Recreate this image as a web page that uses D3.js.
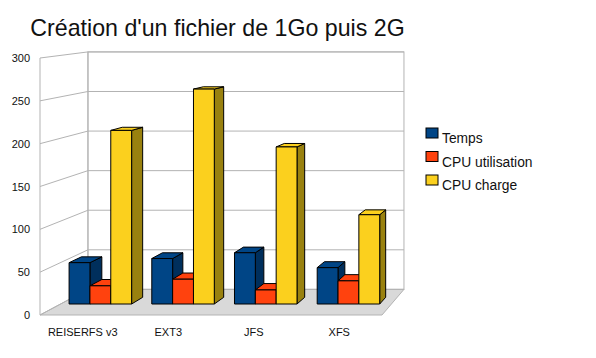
<!DOCTYPE html>
<html>
<head>
<meta charset="utf-8">
<script src="https://cdn.jsdelivr.net/npm/d3@7"></script>
<style>
  body { margin: 0; background: #fff; }
  text { font-family: "Liberation Sans", sans-serif; fill: #111; }
</style>
</head>
<body>
<div id="chart"></div>
<script>
// Values
const categories = ['REISERFS v3', 'EXT3', 'JFS', 'XFS'];
const seriesNames = ['Temps', 'CPU utilisation', 'CPU charge'];
const temps = [50, 55, 62, 44];
const cpuUtilisation = [22, 30, 17, 28];
const cpuCharge = [210, 260, 190, 108];
const seriesValues = [temps, cpuUtilisation, cpuCharge];
const yTicks = [0, 50, 100, 150, 200, 250, 300];

const colors = ['#004586', '#ff420e', '#fbd01e'];
const sideColors = ['#002f5c', '#b02d0a', '#99810f'];

const width = 596;
const height = 358;

const svg = d3.select('#chart')
  .append('svg')
  .attr('width', width)
  .attr('height', height)
  .style('display', 'block');

// Fake 3D: everything recedes towards one vanishing point
const vanish = [671, -22];
const wallDepth = 0.076;
const barDepth = 0.0205;
const recede = (x, y, f) => [x + (vanish[0] - x) * f, y + (vanish[1] - y) * f];
const poly = pts => pts.map(p => p.join(',')).join(' ');

// Scales: front edge of the box, and the plane the bars stand on
const yFront = d3.scaleLinear().domain([0, 300]).range([315, 58]);
const yBar = d3.scaleLinear().domain([0, 300]).range([304, 56]);
const xFront = d3.scaleBand().domain(categories).range([40, 382]);
const xBar = d3.scaleBand().domain(categories).range([59, 389.8]).paddingInner(0.244).paddingOuter(0.122);
const xSeries = d3.scaleBand().domain(d3.range(seriesNames.length)).range([0, xBar.bandwidth()]);

const [x0, x1] = xFront.range();
const gridColor = '#b3b3b3';

// Back wall
const back = v => recede(x0, yFront(v), wallDepth);
const backRight = v => recede(x1, yFront(v), wallDepth);
svg.append('rect')
  .attr('x', back(300)[0])
  .attr('y', back(300)[1])
  .attr('width', backRight(300)[0] - back(300)[0])
  .attr('height', back(0)[1] - back(300)[1])
  .attr('fill', '#fff')
  .attr('stroke', gridColor);

// Floor
svg.append('polygon')
  .attr('points', poly([[x0, yFront(0)], back(0), backRight(0), [x1, yFront(0)]]))
  .attr('fill', '#d9d9d9')
  .attr('stroke', gridColor);

// Grid lines on the left wall and the back wall
const grid = svg.append('g').attr('fill', 'none').attr('stroke', gridColor);
grid.selectAll('polyline')
  .data(yTicks)
  .enter()
  .append('polyline')
  .attr('points', d => poly([[x0, yFront(d)], back(d), backRight(d)]));
grid.append('line')
  .attr('x1', x0).attr('x2', x0)
  .attr('y1', yFront(300)).attr('y2', yFront(0));
grid.append('line')
  .attr('x1', back(0)[0]).attr('x2', back(0)[0])
  .attr('y1', back(300)[1]).attr('y2', back(0)[1]);

// Bars, left to right so each one hides the side of the previous one
categories.forEach((cat, c) => {
  seriesValues.forEach((values, s) => {
    const left = xBar(cat) + xSeries(s);
    const right = left + xSeries.bandwidth();
    const top = yBar(values[c]);
    const base = yBar(0);
    const g = svg.append('g').attr('stroke', '#000').attr('stroke-linejoin', 'round');
    g.append('polygon')
      .attr('points', poly([[right, base], [right, top], recede(right, top, barDepth), recede(right, base, barDepth)]))
      .attr('fill', sideColors[s]);
    g.append('polygon')
      .attr('points', poly([[left, top], [right, top], recede(right, top, barDepth), recede(left, top, barDepth)]))
      .attr('fill', colors[s]);
    g.append('rect')
      .attr('x', left)
      .attr('y', top)
      .attr('width', right - left)
      .attr('height', base - top)
      .attr('fill', colors[s]);
  });
});

// Axes
const yAxis = svg.append('g')
  .attr('transform', 'translate(35,0)')
  .call(d3.axisLeft(yFront).tickValues(yTicks).tickSize(0).tickPadding(5));
yAxis.select('.domain').remove();
yAxis.selectAll('text').attr('font-size', 11);

const xAxis = svg.append('g')
  .attr('transform', 'translate(0,322)')
  .call(d3.axisBottom(xFront).tickSize(0).tickPadding(6));
xAxis.select('.domain').remove();
xAxis.selectAll('text').attr('font-size', 11);

// Title
svg.append('text')
  .attr('x', 217.5)
  .attr('y', 36)
  .attr('text-anchor', 'middle')
  .attr('font-size', 23.2)
  .text("Création d'un fichier de 1Go puis 2G");

// Legend
const legendY = d3.scalePoint().domain(seriesNames).range([143, 190]);
const legend = svg.selectAll('.legend')
  .data(seriesNames)
  .enter()
  .append('g')
  .attr('class', 'legend')
  .attr('transform', d => `translate(426,${legendY(d)})`);
legend.append('rect')
  .attr('y', -15)
  .attr('width', 12)
  .attr('height', 10)
  .attr('fill', (d, i) => colors[i])
  .attr('stroke', '#000');
legend.append('text')
  .attr('x', 16)
  .attr('font-size', 13.8)
  .text(d => d);
</script>
</body>
</html>
